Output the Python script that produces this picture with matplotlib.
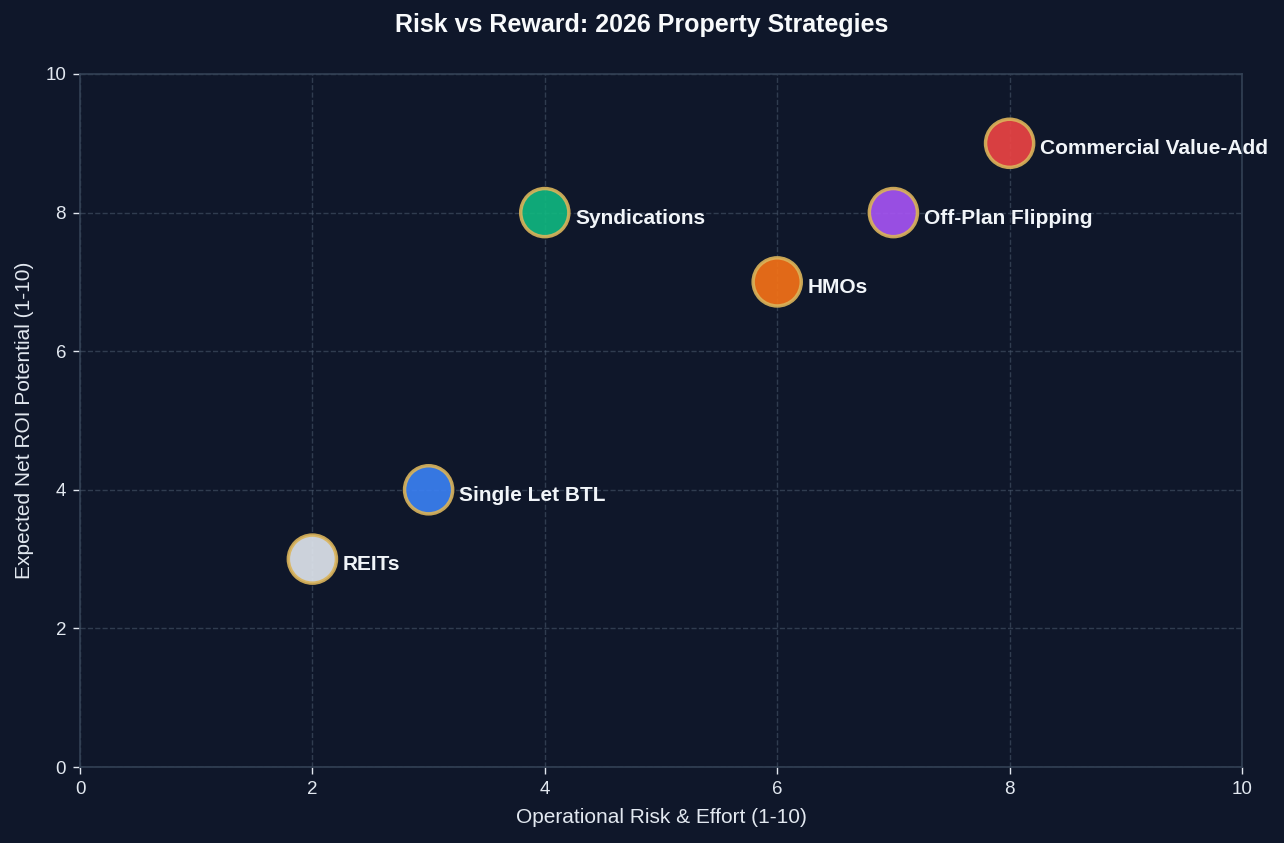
import matplotlib
matplotlib.use("Agg")
import matplotlib.pyplot as plt

names = ["REITs", "Single Let BTL", "Syndications", "HMOs", "Off-Plan Flipping", "Commercial Value-Add"]
risk = [2, 3, 4, 6, 7, 8]
roi = [3, 4, 8, 7, 8, 9]
colors = ["#e2e8f0", "#3b82f6", "#10b981", "#f97316", "#a855f7", "#ef4444"]

BG = "#0f172a"
plt.rcParams['font.family'] = ['Liberation Sans', 'DejaVu Sans']

fig = plt.figure(figsize=(12.84, 8.43), dpi=100, facecolor=BG)
ax = fig.add_axes([80/1284, 1-767/843, (1242-80)/1284, (767-74)/843])
ax.set_facecolor(BG)

ax.grid(True, color="#475569", linestyle="--", linewidth=1, alpha=0.6)
ax.set_axisbelow(True)

ax.scatter(risk, roi, s=1200, c=colors, edgecolors="#dbb45a", linewidths=2.5, alpha=0.9, zorder=3)
for n, x, y in zip(names, risk, roi):
    ax.annotate(n, (x, y), xytext=(22, -4), textcoords="offset points",
                va="center", ha="left", color="#f1f5f9", fontsize=15, fontweight="bold", zorder=4)

ax.set_xlim(0, 10)
ax.set_ylim(0, 10)
ax.set_xticks([0, 2, 4, 6, 8, 10])
ax.set_yticks([0, 2, 4, 6, 8, 10])
for s in ax.spines.values():
    s.set_color("#334155")
    s.set_linewidth(1.2)
ax.tick_params(colors="#e2e8f0", labelsize=13.5, length=5, width=1, pad=5)
ax.set_xlabel("Operational Risk & Effort (1-10)", color="#e2e8f0", fontsize=15, labelpad=7)
ax.set_ylabel("Expected Net ROI Potential (1-10)", color="#e2e8f0", fontsize=15, labelpad=8)
fig.suptitle("Risk vs Reward: 2026 Property Strategies", color="#f8fafc", fontsize=18,
             fontweight="bold", y=1-25/843, va="center")

fig.savefig("out.png", dpi=100, facecolor=BG)
